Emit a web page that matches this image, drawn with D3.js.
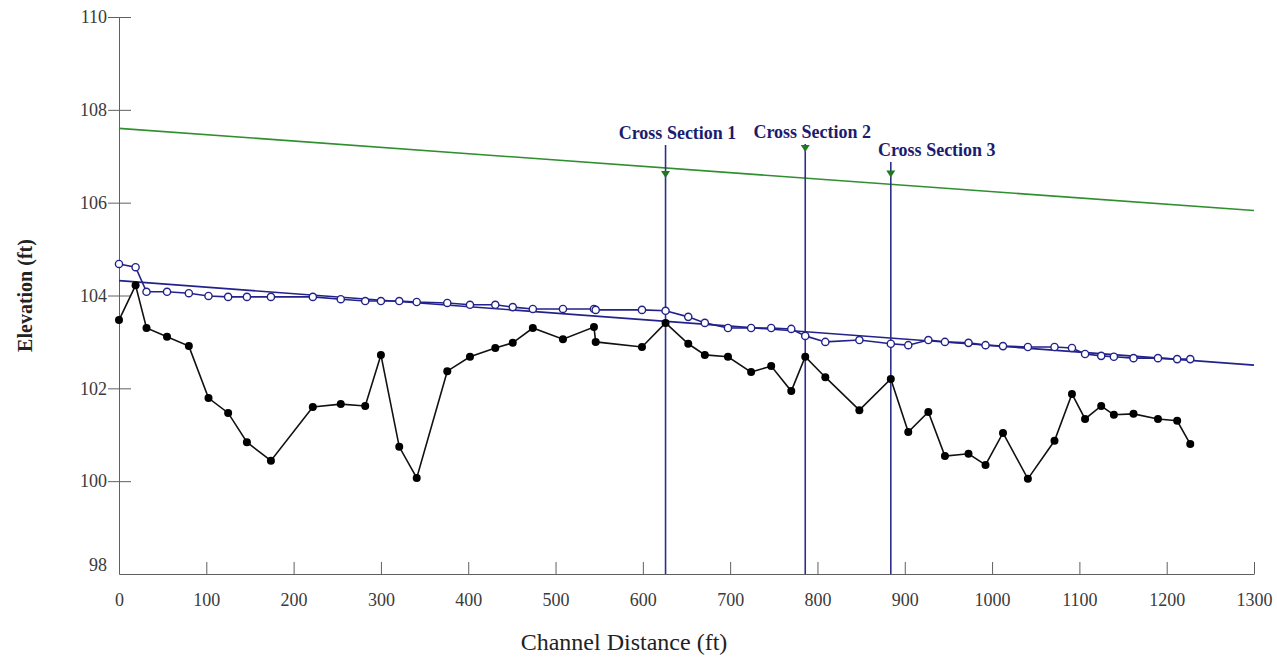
<!DOCTYPE html>
<html>
<head>
<meta charset="utf-8">
<script src="https://cdn.jsdelivr.net/npm/d3@7"></script>
<style>
  html, body { margin: 0; padding: 0; background: #fff; }
  svg { display: block; }
</style>
</head>
<body>
<svg id="chart" width="1277" height="659"></svg>
<script>
// Longitudinal profile: station (ft) along the channel
const stations = [0, 19, 31.5, 55, 80, 102.5, 125, 146.5, 174, 222,
  254, 282, 300, 321, 341, 376, 402, 431, 451, 474,
  508.5, 544, 546, 599, 626, 652, 671, 697.5, 724, 747,
  770, 786, 809, 848, 884, 904, 927, 946, 973, 992.5,
  1012.5, 1041, 1071.5, 1091.5, 1106.5, 1125, 1139.5, 1162, 1190, 1212, 1227];

// Thalweg (bed) elevation, ft
const bedElev = [103.47, 104.22, 103.30, 103.11, 102.91, 101.79, 101.47, 100.84, 100.44, 101.60,
  101.66, 101.62, 102.72, 100.74, 100.07, 102.37, 102.68, 102.87, 102.98, 103.30,
  103.06, 103.32, 103.00, 102.89, 103.41, 102.96, 102.72, 102.68, 102.35, 102.48,
  101.94, 102.68, 102.24, 101.53, 102.20, 101.06, 101.49, 100.54, 100.59, 100.35,
  101.04, 100.05, 100.87, 101.88, 101.34, 101.62, 101.43, 101.45, 101.34, 101.30, 100.80];

// Water surface elevation, ft
const wsElev = [104.68, 104.61, 104.08, 104.08, 104.05, 103.99, 103.97, 103.97, 103.97, 103.97,
  103.92, 103.88, 103.88, 103.88, 103.86, 103.84, 103.80, 103.80, 103.75, 103.71,
  103.71, 103.71, 103.69, 103.69, 103.67, 103.54, 103.41, 103.30, 103.30, 103.30,
  103.28, 103.13, 103.00, 103.04, 102.96, 102.93, 103.04, 103.00, 102.98, 102.93,
  102.91, 102.89, 102.89, 102.87, 102.74, 102.70, 102.68, 102.65, 102.65, 102.63, 102.63];

// Straight-line fits: [station, elevation] end points
const wsFitLine = [[0, 104.32], [1300, 102.50]];
const bankfullLine = [[0, 107.60], [1300, 105.83]];

// Surveyed cross sections
const sectionNames = ["Cross Section 1", "Cross Section 2", "Cross Section 3"];
const sectionStations = [626, 786, 884];
const sectionWs = [106.53, 107.09, 106.54];

// Axis ticks
const xTicks = [0, 100, 200, 300, 400, 500, 600, 700, 800, 900, 1000, 1100, 1200, 1300];
const yTicks = [98, 100, 102, 104, 106, 108, 110];

// ---- layout ----
const W = 1277, H = 659;
const margin = { top: 17, right: 23, bottom: 85, left: 119 };
// label placement for the cross-section callouts (dx from the line, baseline y in px)
const sectionLabelLayout = [{ dx: 12, y: 139 }, { dx: 7, y: 138 }, { dx: 46, y: 156 }];

const navy = "#22228a";
const xsColor = "#2e2e8c";
const green = "#2f8f2f";
const axisColor = "#606060";
const serif = "'Liberation Serif', 'Times New Roman', serif";

const svg = d3.select("#chart");

const x = d3.scaleLinear().domain([0, 1300]).range([margin.left, W - margin.right]);
const y = d3.scaleLinear().domain([98, 110]).range([H - margin.bottom, margin.top]);

// axes
const xAxis = svg.append("g")
  .attr("transform", `translate(0,${y(98)})`)
  .call(d3.axisBottom(x).tickValues(xTicks).tickSize(0).tickPadding(19).tickFormat(d3.format("d")));
xAxis.select(".domain").attr("stroke", axisColor);
xAxis.selectAll(".tick text")
  .attr("font-family", serif).attr("font-size", 18).attr("fill", "#3a3a3a");
xAxis.selectAll(".tick").append("line")
  .attr("y1", 0).attr("y2", -12).attr("stroke", axisColor);

const yAxis = svg.append("g")
  .attr("transform", `translate(${x(0)},0)`)
  .call(d3.axisLeft(y).tickValues(yTicks).tickSize(0).tickPadding(12).tickFormat(d3.format("d")));
yAxis.select(".domain").attr("stroke", axisColor);
yAxis.selectAll(".tick text")
  .attr("font-family", serif).attr("font-size", 18).attr("fill", "#3a3a3a")
  .attr("dy", d => d === 98 ? "-0.2em" : "0.32em");
yAxis.selectAll(".tick").append("line")
  .attr("x1", d => d === 98 ? 0 : -11).attr("x2", d => d === 98 ? 0 : 12).attr("stroke", axisColor);

// axis titles
svg.append("text")
  .attr("x", 624).attr("y", 650)
  .attr("text-anchor", "middle")
  .attr("font-family", serif).attr("font-size", 24).attr("fill", "#222")
  .text("Channel Distance (ft)");

svg.append("text")
  .attr("transform", `translate(32,${(y(98) + y(110)) / 2}) rotate(-90)`)
  .attr("text-anchor", "middle")
  .attr("font-family", serif).attr("font-size", 20).attr("font-weight", "bold").attr("fill", "#222")
  .text("Elevation (ft)");

const line = d3.line().x(d => x(d[0])).y(d => y(d[1]));

// fitted lines
svg.append("path").datum(bankfullLine).attr("d", line)
  .attr("fill", "none").attr("stroke", green).attr("stroke-width", 1.6);
svg.append("path").datum(wsFitLine).attr("d", line)
  .attr("fill", "none").attr("stroke", navy).attr("stroke-width", 1.6);

// water surface profile
const wsPts = stations.map((s, i) => [s, wsElev[i]]);
svg.append("path").datum(wsPts).attr("d", line)
  .attr("fill", "none").attr("stroke", navy).attr("stroke-width", 1.6);

// bed profile
const bedPts = stations.map((s, i) => [s, bedElev[i]]);
svg.append("path").datum(bedPts).attr("d", line)
  .attr("fill", "none").attr("stroke", "#111").attr("stroke-width", 1.6);

// cross-section callouts
const xs = svg.append("g");
sectionStations.forEach((s, i) => {
  const lay = sectionLabelLayout[i];
  const px = x(s);
  xs.append("line")
    .attr("x1", px).attr("x2", px)
    .attr("y1", lay.y + 6).attr("y2", y(98))
    .attr("stroke", xsColor).attr("stroke-width", 1.6);
  const tip = y(sectionWs[i]);
  xs.append("path")
    .attr("d", `M${px - 4.5},${tip - 7}L${px + 4.5},${tip - 7}L${px},${tip}Z`)
    .attr("fill", "#1f7a1f");
  xs.append("text")
    .attr("x", px + lay.dx).attr("y", lay.y)
    .attr("text-anchor", "middle")
    .attr("font-family", serif).attr("font-size", 18).attr("font-weight", "bold")
    .attr("fill", "#1c1c6e")
    .text(sectionNames[i]);
});

// markers
svg.append("g").selectAll("circle").data(wsPts).join("circle")
  .attr("cx", d => x(d[0])).attr("cy", d => y(d[1])).attr("r", 3.6)
  .attr("fill", "#fff").attr("stroke", navy).attr("stroke-width", 1.4);

svg.append("g").selectAll("circle").data(bedPts).join("circle")
  .attr("cx", d => x(d[0])).attr("cy", d => y(d[1])).attr("r", 4)
  .attr("fill", "#000");
</script>
</body>
</html>
